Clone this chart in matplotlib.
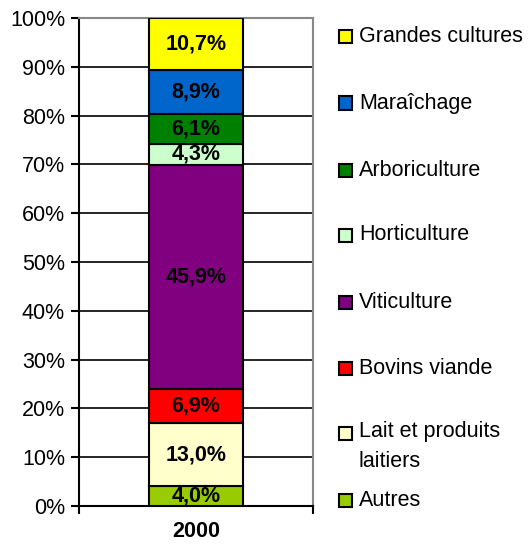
import numpy as np
import matplotlib.pyplot as plt
from matplotlib.patches import Rectangle

# data, bottom to top
categories = ["Autres", "Lait et produits\nlaitiers", "Bovins viande", "Viticulture",
              "Horticulture", "Arboriculture", "Maraîchage", "Grandes cultures"]
values = [4.0, 13.0, 6.9, 45.9, 4.3, 6.1, 8.9, 10.7]
colors = ["#99CC00", "#FFFFCC", "#FF0000", "#800080",
          "#CCFFCC", "#008000", "#0066CC", "#FFFF00"]
year = "2000"

plt.rcParams['font.family'] = ['Liberation Sans', 'DejaVu Sans']
FS = 15.5
W, H = 529, 546

fig = plt.figure(figsize=(W / 100, H / 100), dpi=100)
ax = fig.add_axes([79 / W, 1 - 506 / H, (313 - 79) / W, (506 - 18) / H])

# 100% stacked: normalise the values
shares = np.array(values) / sum(values) * 100
bottoms = np.concatenate([[0], np.cumsum(shares)[:-1]])

ax.bar([0] * len(shares), shares, bottom=bottoms, width=0.4, color=colors,
       edgecolor="black", linewidth=1.5, zorder=3)

for v, s, b in zip(values, shares, bottoms):
    lbl = f"{v:.1f}%".replace(".", ",")
    ax.text(0, b + s / 2, lbl, ha="center", va="center", fontsize=FS,
            fontweight="bold", zorder=4)

ax.set_xlim(-0.5, 0.5)
ax.set_ylim(0, 100)
ax.set_yticks(np.arange(0, 101, 10))
ax.set_yticklabels([f"{t}%" for t in range(0, 101, 10)], fontsize=FS)
ax.yaxis.grid(True, color="black", linewidth=1.2, zorder=0)
ax.set_axisbelow(True)
ax.tick_params(axis="y", length=6, width=1.5, direction="out", pad=4)

ax.set_xticks([-0.5, 0.5])
ax.set_xticklabels(["", ""])
ax.tick_params(axis="x", length=6, width=1.5, direction="out")
ax.text(0, -5.3, year, ha="center", va="center", fontsize=FS,
        fontweight="bold", clip_on=False)

ax.spines["left"].set_linewidth(1.5)
ax.spines["bottom"].set_linewidth(1.5)
for side in ["top", "right"]:
    ax.spines[side].set_color("#888888")
    ax.spines[side].set_linewidth(1.5)

# legend, top to bottom, drawn by hand to follow the original spacing
leg_y = [37, 103, 170, 235, 302, 368, 433, 500]
for lab, col, yy in zip(categories[::-1], colors[::-1], leg_y):
    fig.patches.append(Rectangle((339 / W, 1 - (yy + 6.5) / H), 13 / W, 13 / H,
                                 transform=fig.transFigure, facecolor=col,
                                 edgecolor="black", linewidth=1.5))
    if "\n" in lab:
        fig.text(359 / W, 1 - (yy - 12) / H, lab, ha="left", va="top",
                 fontsize=FS, linespacing=1.55)
    else:
        fig.text(359 / W, 1 - yy / H, lab, ha="left", va="center", fontsize=FS)

fig.savefig("out.png", dpi=100)
